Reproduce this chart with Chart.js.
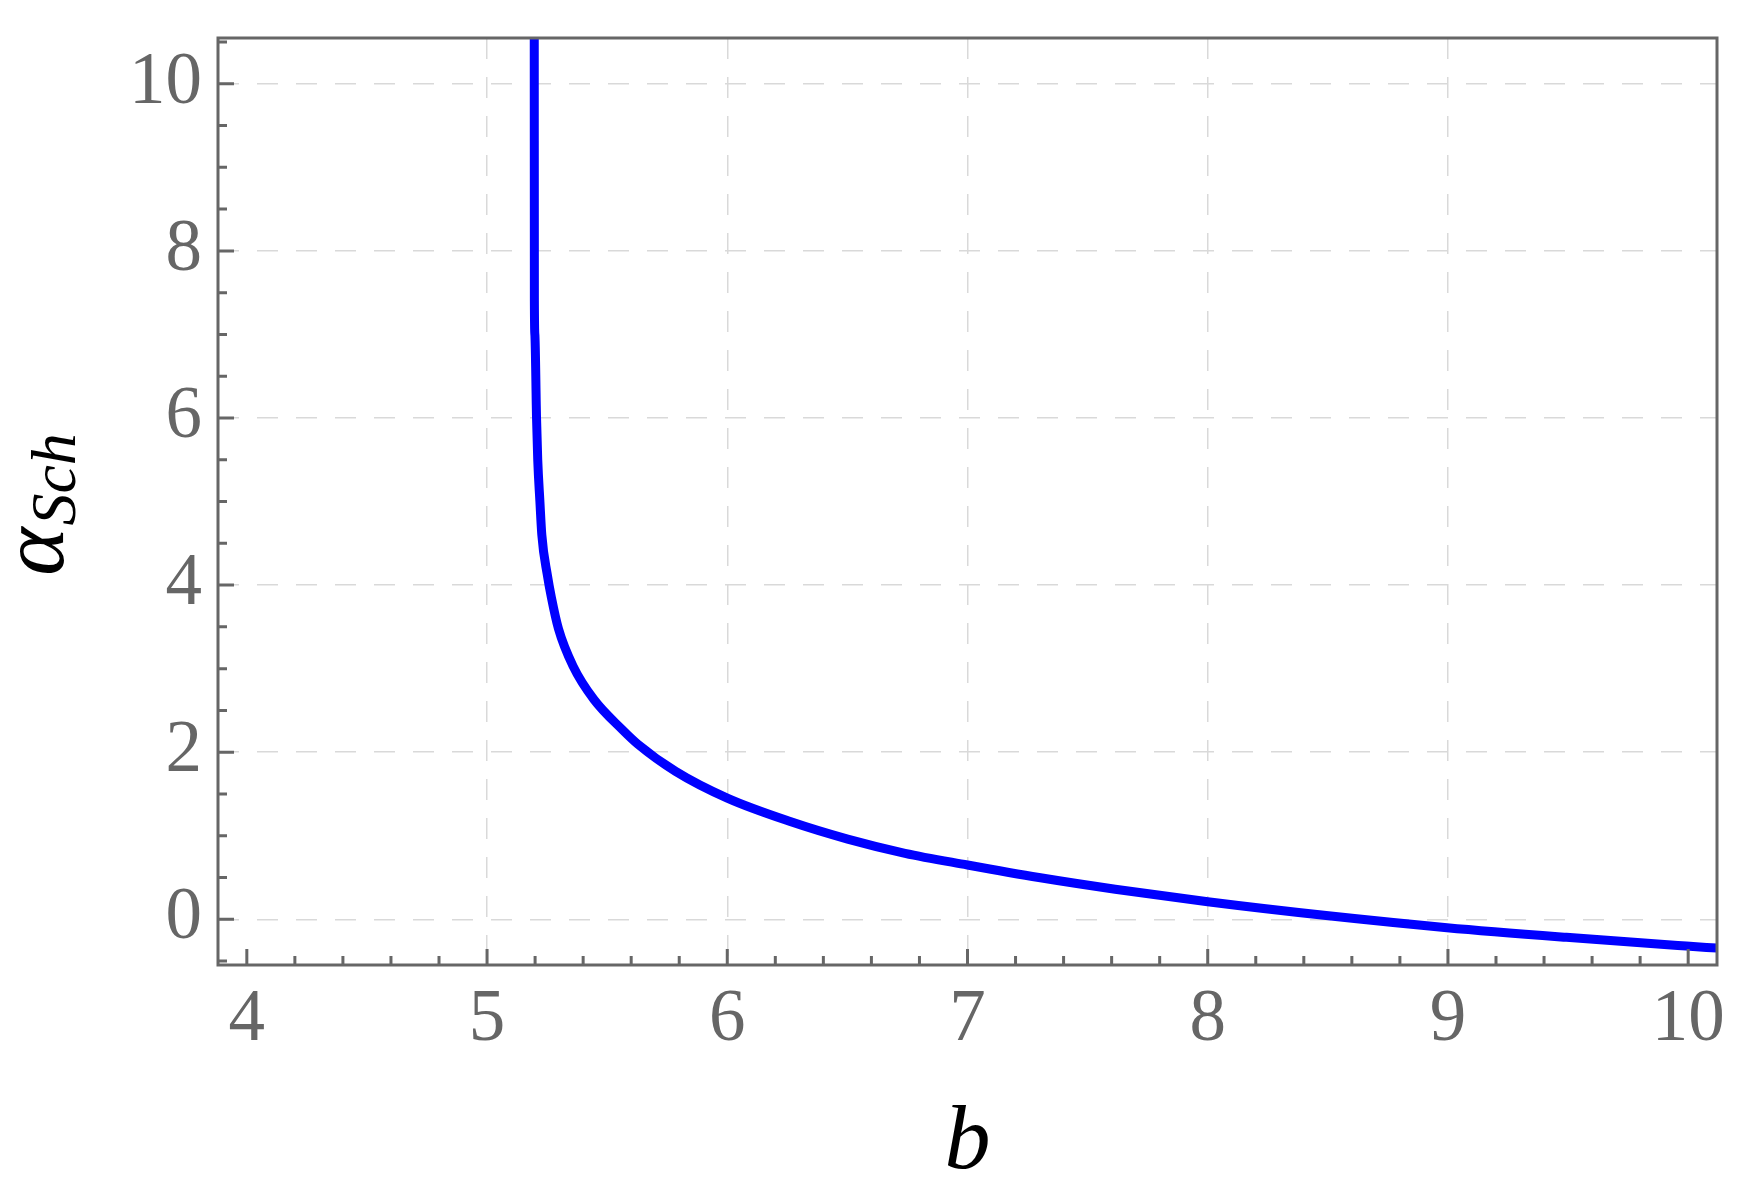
<!DOCTYPE html>
<html>
<head>
<meta charset="utf-8">
<script src="https://cdn.jsdelivr.net/npm/chart.js@4.4.1/dist/chart.umd.min.js"></script>
<style>
  html, body { margin: 0; padding: 0; background: #fff; }
  canvas { display: block; }
</style>
</head>
<body>
<canvas id="myChart" width="1757" height="1201"></canvas>
<script>
// values
const bValues = [5.1965, 5.197, 5.199, 5.206, 5.211, 5.220, 5.228, 5.251, 5.268,
    5.297, 5.358, 5.445, 5.563, 5.626, 5.785, 6.000, 6.262, 6.501,
    6.740, 7.000, 7.297, 7.615, 8.000, 8.493, 8.996, 9.493, 9.993, 10.120];
const alphaValues = [10.6, 7.4, 7.0, 6.0, 5.5, 5.0, 4.6, 4.12, 3.85,
    3.48, 3.03, 2.63, 2.27, 2.10, 1.77, 1.45, 1.17, 0.96,
    0.79, 0.65, 0.50, 0.36, 0.21, 0.045, -0.10, -0.216, -0.32, -0.345];

const xTickLabels = ['4', '5', '6', '7', '8', '9', '10'];
const yTickLabels = ['0', '2', '4', '6', '8', '10'];
const xGridAt = [5, 6, 7, 8, 9];
const yGridAt = [0, 2, 4, 6, 8, 10];

const xTitle = 'b';
const yTitleMain = 'α';
const yTitleSub = 'Sch';

const axisColor = '#666666';
const gridColor = '#d9d9d9';
const serif = "'Liberation Serif', 'Times New Roman', serif";

const points = bValues.map((b, i) => ({x: b, y: alphaValues[i]}));

const near = (v, list) => list.some(t => Math.abs(v - t) < 1e-6);
const labelFor = (v, list) => {
    const s = String(Math.round(v * 10) / 10);
    return list.includes(s) ? s : '';
};

// frame + inward tick marks (major long, minor short)
const frameTicks = {
    id: 'frameTicks',
    afterDatasetsDraw(chart) {
        const {ctx, chartArea: a, scales} = chart;
        ctx.save();
        ctx.strokeStyle = axisColor;
        ctx.lineWidth = 3;
        ctx.beginPath();
        scales.x.ticks.forEach(t => {
            const px = scales.x.getPixelForValue(t.value);
            const len = t.label ? 16 : 9;
            ctx.moveTo(px, a.bottom);
            ctx.lineTo(px, a.bottom - len);
        });
        scales.y.ticks.forEach(t => {
            const py = scales.y.getPixelForValue(t.value);
            const len = t.label ? 16 : 9;
            ctx.moveTo(a.left, py);
            ctx.lineTo(a.left + len, py);
        });
        ctx.stroke();
        ctx.lineJoin = 'miter';
        ctx.strokeRect(a.left, a.top, a.right - a.left, a.bottom - a.top);
        ctx.restore();
    }
};

// rotated y title with subscript
const yTitlePlugin = {
    id: 'yTitle',
    afterDraw(chart) {
        const {ctx, chartArea: a} = chart;
        ctx.save();
        ctx.fillStyle = '#000';
        ctx.textBaseline = 'alphabetic';
        ctx.textAlign = 'left';
        ctx.font = 'italic 92px ' + serif;
        const w1 = ctx.measureText(yTitleMain).width;
        ctx.font = 'italic 64px ' + serif;
        const w2 = ctx.measureText(yTitleSub).width;
        const total = w1 + 2 + w2;
        const cy = (a.top + a.bottom) / 2 + 3;
        ctx.translate(63, cy + total / 2);
        ctx.rotate(-Math.PI / 2);
        ctx.font = 'italic 92px ' + serif;
        ctx.fillText(yTitleMain, 0, 0);
        ctx.font = 'italic 64px ' + serif;
        ctx.fillText(yTitleSub, w1 + 2, 12);
        ctx.restore();
    }
};

function drawChart() {
    const ctx = document.getElementById('myChart').getContext('2d');
    return new Chart(ctx, {
        type: 'line',
        data: {
            datasets: [{
                data: points,
                borderColor: '#0000ff',
                borderWidth: 9,
                pointRadius: 0,
                fill: false,
                cubicInterpolationMode: 'monotone',
                clip: 0
            }]
        },
        options: {
            responsive: false,
            devicePixelRatio: 1,
            animation: false,
            layout: { padding: { top: 38, right: 40, left: 0, bottom: 0 } },
            plugins: { legend: { display: false }, tooltip: { enabled: false } },
            scales: {
                x: {
                    type: 'linear',
                    min: 3.88,
                    max: 10.12,
                    border: { display: false, dash: [21, 18] },
                    grid: {
                        drawTicks: false,
                        lineWidth: 1.5,
                        color: c => near(c.tick.value, xGridAt) ? gridColor : 'rgba(0,0,0,0)'
                    },
                    ticks: {
                        stepSize: 0.2,
                        autoSkip: false,
                        maxRotation: 0,
                        includeBounds: false,
                        padding: 12,
                        color: axisColor,
                        font: { family: serif, size: 73 },
                        callback: v => labelFor(v, xTickLabels)
                    },
                    title: {
                        display: true,
                        text: xTitle,
                        color: '#000',
                        font: { family: serif, size: 92, style: 'italic' },
                        padding: { top: 0, bottom: 2 }
                    },
                    afterFit: s => { s.height = 236; s.paddingLeft = 0; s.paddingRight = 0; }
                },
                y: {
                    min: -0.547,
                    max: 10.548,
                    border: { display: false, dash: [21, 18] },
                    grid: {
                        drawTicks: false,
                        lineWidth: 1.5,
                        color: c => near(c.tick.value, yGridAt) ? gridColor : 'rgba(0,0,0,0)'
                    },
                    ticks: {
                        stepSize: 0.5,
                        autoSkip: false,
                        includeBounds: false,
                        padding: 16,
                        color: axisColor,
                        font: { family: serif, size: 73 },
                        callback: v => labelFor(v, yTickLabels)
                    },
                    afterFit: s => { s.width = 218; s.paddingTop = 0; s.paddingBottom = 0; }
                }
            }
        },
        plugins: [frameTicks, yTitlePlugin]
    });
}

let myChart;
Promise.all([
    document.fonts.load('73px "Liberation Serif"'),
    document.fonts.load('italic 92px "Liberation Serif"')
]).catch(() => {}).then(() => { myChart = drawChart(); });
</script>
</body>
</html>
